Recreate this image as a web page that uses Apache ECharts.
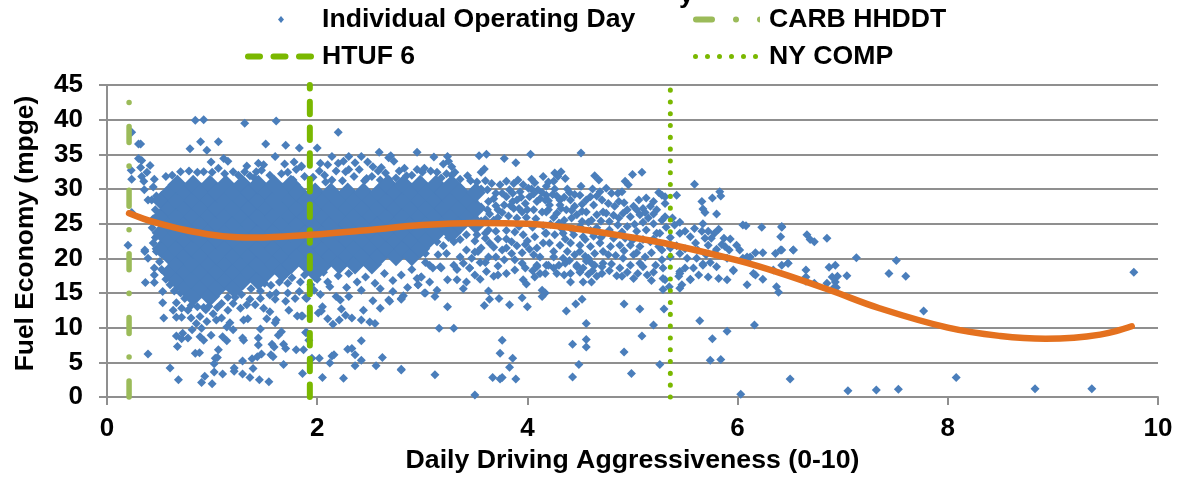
<!DOCTYPE html>
<html>
<head>
<meta charset="utf-8">
<style>
  html, body { margin: 0; padding: 0; background: #fff; }
  #chart { width: 1178px; height: 477px; }
</style>
<script src="https://cdn.jsdelivr.net/npm/echarts@6/dist/echarts.min.js"></script>
</head>
<body>
<div id="chart"></div>
<script>
const xTicks = [0, 10]
const yTicks = [0, 45]

// the solid mass of overlapping days, read as [x, [y...]] columns
const denseColumns = [
  [0.52, [21.4, 23.7, 26, 28.3]],
  [0.60, [18, 20.3, 22.6, 24.9, 27.2, 29.5]],
  [0.67, [16.8, 19.1, 21.4, 23.7, 26, 28.3, 30.6]],
  [0.75, [15.7, 18, 20.3, 22.6, 24.9, 27.2, 29.5]],
  [0.82, [14.5, 16.8, 19.1, 21.4, 23.7, 26, 28.3, 30.6]],
  [0.90, [15.7, 18, 20.3, 22.6, 24.9, 27.2, 29.5]],
  [0.98, [14.5, 16.8, 19.1, 21.4, 23.7, 26, 28.3, 30.6]],
  [1.05, [15.7, 18, 20.3, 22.6, 24.9, 27.2, 29.5]],
  [1.13, [16.8, 19.1, 21.4, 23.7, 26, 28.3, 30.6]],
  [1.21, [15.7, 18, 20.3, 22.6, 24.9, 27.2, 29.5]],
  [1.29, [16.8, 19.1, 21.4, 23.7, 26, 28.3, 30.6]],
  [1.36, [18, 20.3, 22.6, 24.9, 27.2, 29.5]],
  [1.44, [16.8, 19.1, 21.4, 23.7, 26, 28.3, 30.6]],
  [1.52, [18, 20.3, 22.6, 24.9, 27.2, 29.5]],
  [1.59, [19.1, 21.4, 23.7, 26, 28.3, 30.6]],
  [1.67, [18, 20.3, 22.6, 24.9, 27.2, 29.5]],
  [1.75, [19.1, 21.4, 23.7, 26, 28.3, 30.6]],
  [1.82, [20.3, 22.6, 24.9, 27.2, 29.5]],
  [1.90, [19.1, 21.4, 23.7, 26, 28.3]],
  [1.98, [18, 20.3, 22.6, 24.9, 27.2, 29.5]],
  [2.06, [19.1, 21.4, 23.7, 26, 28.3]],
  [2.13, [20.3, 22.6, 24.9, 27.2, 29.5]],
  [2.21, [19.1, 21.4, 23.7, 26, 28.3]],
  [2.29, [20.3, 22.6, 24.9, 27.2, 29.5]],
  [2.36, [19.1, 21.4, 23.7, 26, 28.3]],
  [2.44, [20.3, 22.6, 24.9, 27.2, 29.5]],
  [2.52, [19.1, 21.4, 23.7, 26, 28.3]],
  [2.59, [20.3, 22.6, 24.9, 27.2, 29.5]],
  [2.67, [21.4, 23.7, 26, 28.3, 30.6]],
  [2.75, [20.3, 22.6, 24.9, 27.2, 29.5]],
  [2.82, [21.4, 23.7, 26, 28.3, 30.6]],
  [2.90, [20.3, 22.6, 24.9, 27.2, 29.5]],
  [2.98, [21.4, 23.7, 26, 28.3, 30.6]],
  [3.05, [22.6, 24.9, 27.2, 29.5]],
  [3.13, [23.7, 26, 28.3, 30.6]],
  [3.21, [24.9, 27.2, 29.5]],
  [3.28, [23.7, 26, 28.3, 30.6]],
  [3.36, [24.9, 27.2, 29.5]],
  [3.44, [26, 28.3]],
  [3.51, [24.9, 27.2, 29.5]]
]

const topDays = [
  [.235,38.2],[.30,36.5],[.32,36.5],[.79,35.8],[.84,39.9],[.92,40],[.89,36.8],[.95,35.6],[1.06,36.8],[1.31,39.5],
  [1.61,39.8],[1.51,36.5],[1.70,36.3],[1.83,35.9],[2.0,35.9],[2.2,38.2],[1.60,34.7],[1.69,33.6],[1.78,33.9],[1.80,32.8],
  [1.85,33.2],[1.77,31.3],[1.88,31.8],[.99,33.9],[1.11,34.4],[1.15,34],[1.06,33],[.92,32.5],[1.2,32.5],[1.31,32.5],
  [1.33,33.3],[1.44,33.7],[1.49,33.5],[1.42,32.5],[1.47,32.7],[1.40,31.6],[.23,32.7],[.235,31.4],[.30,34.4],[.33,34.1],
  [.32,33.1],[.41,33.4],[.38,32.4],[.33,31.8],[.35,31.1],[.45,31.4],[.355,29.9],[.44,30.3],[.39,28.4],[.425,28.4],
  [.56,31.8],[.235,26.6],[2.59,35.3],[2.7,34.8],[2.95,35.3],[2.14,34.7],[2.3,34.7],[2.42,34.7],[2.2,33.7],[2.1,33.5],
  [2.36,33.8],[2.25,34],[2.48,33.9],[1.85,33.3],[2.03,33.7],[2.53,33.2],[2.61,33.1],[2.73,34],[2.68,34.5],[2.83,33],
  [2.65,32.3],[2.14,31.3],[2.07,32],[2.35,31.8],[2.47,31.5],[2.75,31.6],[2.9,32],[3.0,32.4],[2.6,31.3],[2.27,32.5],
  [3.11,34.6],[3.54,34.8],[3.61,35],[3.78,34.4],[4.03,35],[3.89,33.8],[3.24,34.7],[3.25,34],[3.2,33.6],[3.28,33.2],
  [3.14,32.4],[3.23,32.2],[3.31,32.4],[3.56,32.4],[3.59,32.9],[3.43,31.9],[3.8,31.1],[3.91,31.3],[3.87,30.8],[4.04,31.4],
  [4.07,30.9],[4.15,31.8],[3.74,30.6],[3.83,29.9],[3.93,29.6],[4.01,30.1],[4.1,29.9],[4.18,29.1],[4.02,28.9],[3.8,28.9],
  [3.9,28.4],[3.98,27.9],[4.09,28.2],[3.78,27.7],[3.87,27.2],[3.95,26.7],[4.06,27],[4.14,26.7],[3.66,30.8],[3.6,31.2],
  [3.7,29.4],[3.63,28.2],[3.7,27.6],[3.64,26.4],[3.72,25.9],[3.82,26.1],[3.9,25.8],[3.99,25.9],[4.08,25.7],[3.6,25.6],
  // rim of the mass
  [.62,32],[.7,32.5],[.78,32.6],[.86,32.4],[1,32.4],[1.12,32.2],[1.25,32],[1.36,31.9],[1.55,32],[1.66,32.2],[1.72,32.4],
  [1.96,31.7],[2.02,32.6],[2.08,31],[2.18,32.6],[2.24,31.2],[2.3,32.8],[2.4,32.8],[2.45,31.2],[2.52,31.8],[2.58,32.6],
  [2.68,31.4],[2.78,32.6],[2.85,31.9],[2.95,32.8],[3.02,33],[3.08,32.6],[3.18,31.6],[3.28,32],[3.36,31.4],[3.46,31.2],
  [3.52,31],[3.5,29.9],[3.56,30],[3.62,29.9],[3.68,28.6],[3.76,29.4],[3.86,28.2],[3.72,27],[3.62,27],[3.56,27.4],
  [3.56,25.4],[3.68,25.5],[3.76,26.6],[3.84,27.6],[3.92,27.2],[4,27],[4.12,28.6],[4.2,28.3],[4.04,30],[4.24,29.2],
  [3.96,30.6],[3.86,29.4],[3.94,28.8],[4.06,29.3],[4.14,29.5],[4.2,27],[4.25,25.9],[4.35,25.5],[4.42,25.8],[4.3,25.1],
  [4.58,25.2],[4.7,25.4],[4.78,25.3],[4.86,24.8]
]

const lowDays = [
  [.2,21.9],[.36,21],[.365,16.5],[.45,16.5],[.39,20],[.36,21.2],[.45,18.6],[.45,17.6],[.53,15.2],[.53,13.6],
  [.66,13.6],[.63,12.5],[.71,12.8],[.54,11.4],[.66,11.5],[.71,11.5],[.77,12.5],[.39,6.2],[.6,4.2],[.68,2.5],
  [.66,8.8],[.72,9.2],[.71,8.4],[.77,8.5],[.67,7.3],[.84,6.3],[.88,6.4],[.81,9.7],[.85,10.6],[.9,9.9],
  [.885,8.7],[.92,8.2],[.99,8.9],[.95,10.9],[1.04,11.1],[1.09,11.4],[1.17,10.7],[1.14,10.1],[1.2,9.7],[1.1,8.7],
  [1.14,8.1],[1.06,6.8],[1.03,5.6],[1.05,5.7],[1.02,4.8],[1.02,3.6],[1.1,3.3],[.93,3],[.9,2.1],[1.0,1.9],
  [1.21,3.7],[1.21,4.2],[1.29,3.3],[1.36,2.8],[1.39,4.1],[1.29,5.2],[1.38,5.5],[1.43,5.8],[1.47,6.2],[1.45,2.5],
  [1.54,2.2],[1.56,6.1],[1.58,5.8],[1.68,4.7],[1.29,8.5],[1.3,8.2],[1.44,8.5],[1.44,7.5],[1.46,9.8],[1.3,11.1],
  [1.34,11.3],[1.52,11.3],[1.61,11.1],[1.6,10.7],[1.66,9.4],[1.63,8.9],[1.57,7.6],[1.59,7.2],[1.68,7.6],[1.7,7],
  [1.8,6.8],[1.87,6.8],[1.86,3.4],[1.9,9.3],[1.73,12.5],[1.81,11.7],[1.86,11.7],[1.55,12.3],[1.49,12.8],[1.41,13.3],
  [1.6,14.1],[1.55,14.7],[1.61,15],[1.7,13.8],[1.79,14.2],[1.9,14.2],[1.2,13.5],[1.27,12.8],[1.22,14.4],[1.33,13.3],
  [1.09,13.5],[1.01,12],[.885,11.6],[.8,11.4],[.94,12.6],[.97,13.1],[1.15,12.5],[1.05,12.9],
  [1.89,14.3],[2.03,14.8],[2.05,13],[2.01,12.1],[2.04,12.4],[2.1,11.3],[2.15,10.5],[2.21,11.1],[2.23,12.7],[2.27,11.8],
  [2.33,11.4],[2.42,11.1],[2.5,10.8],[2.55,10.6],[2.44,12.5],[2.6,12.8],[2.53,13.9],[2.68,14],[2.69,13.8],[2.8,14.1],
  [2.82,14.6],[3.03,15],[2.18,14.5],[2.22,14],[2.3,14.5],[1.85,11.7],[1.89,9.3],[1.92,8.2],[1.95,5.6],[2.02,5.6],
  [2.12,4.9],[2.14,5.9],[2.16,6.1],[2.05,2.8],[2.25,2.7],[2.29,6.9],[2.33,7],[2.36,6.1],[2.42,8.1],[2.42,5.3],
  [2.36,4.5],[2.56,4.5],[2.62,5.7],[2.8,3.9],[2.8,4],[3.12,3.2],[3.16,9.9],[3.3,9.9],[3.5,.3],[3.67,2.8],
  [3.74,2.6],[3.76,2.8],[3.89,2.6],[3.83,4.3],[3.86,5.6],[3.74,6.3],[3.76,8.2],[4.43,2.9],[4.49,4.7],[4.43,7.6],
  [4.56,7.2],[4.56,8.3],[4.56,10.6],[4.37,12.4],[4.46,13.4],[4.52,14.1],[4.92,6.5],[5.09,8.8],[4.99,3.4],[5.26,4.7],
  [5.2,10.4],[5.3,12.7],[5.07,12.7],[4.92,13.4],[5.64,11],[5.76,8.4],[5.9,9.5],[6.16,10.4],[5.74,5.3],[5.84,5.4],
  [6.03,.4],[6.5,2.6],[2.8,14.2],[3.24,13],[3.12,14.5],[3.02,15],[3.14,15.4],[3.59,13.2],[3.64,14.1],[3.73,14.2],
  [3.83,13.3],[3.95,14.3],[4,13],[3.63,15.3],[4.14,15.4],[4.17,15],[4.14,14.5],[7.05,.9],[7.32,1],[7.53,1.1],
  [8.08,2.8],[8.83,1.2],[9.37,1.2],[7.77,12.4],
  // lower rim of the mass
  [.47,29],[.46,27],[.44,25.7],[.43,24.4],[.46,23],[.44,22.2],[.47,21],[.5,19.5],[.52,18.4],[.56,17],[.6,16.2],
  [.64,15.3],[.7,15],[.74,14.2],[.8,13.2],[.86,13],[.92,12.9],[1.15,14.4],[1.28,14.8],[1.37,15.6],[1.46,15.3],
  [1.5,16.4],[1.56,16.1],[1.64,16.6],[1.72,16.4],[1.76,17.2],[1.84,16.6],[1.88,17.6],[1.94,16.2],[1.97,15.4],[1.72,15],
  [1.83,15.2],[1.46,14.2],[1.36,14.1]
]

const midDays = [
  // below the mass, x 2 to 3.5
  [2.0,17],[2.1,16.6],[2.06,18],[2.2,17.5],[2.3,17.8],[2.38,16.6],[2.46,17.3],[2.55,16.4],[2.64,17.8],[2.72,16.8],
  [2.8,17.6],[2.9,18.4],[2.95,17.1],[2.12,15.9],[2.28,15.8],[2.42,15.4],[2.6,15.6],[2.72,15.2],[2.86,15.8],[2.96,16.2],
  [2.99,17.3],[3.03,19.4],[3.07,22.9],[3.14,22.4],[3.01,22.2],[3.03,20.7],[3.15,20.5],[3.23,20.7],[3.36,20.2],[3.45,18.6],
  [3.3,22.4],[3.36,22.7],[3.39,19.3],[3.3,19],[3.17,18.8],[3.07,19],[3.24,16.9],[3.33,16.9],[3.42,16.6],[3.39,15.6],
  [3.07,16.6],[2.99,17.3],[2.96,16.2],[3.1,18.6],[3.18,18.6],[3.33,18.4],[3.45,18.6],[3.2,21.8],[3.42,21.2],[3.5,22.5],
  [3.25,23],[3.42,23.4],[3.1,24],
  // x 3.5 to 4.2 under the trend
  [3.52,23.4],[3.63,24.1],[3.72,22.8],[3.6,22.9],[3.8,22.8],[3.96,23.4],[3.8,24],[4.07,23.1],[4.17,23.6],[4.09,21.5],
  [4.15,22.2],[3.76,21.2],[3.53,21],[3.5,20.9],[3.56,21.5],[3.63,20.2],[3.88,19.8],[3.95,19.3],[4.06,20.5],[4.09,18.8],
  [4.18,19],[3.72,18.9],[3.61,18.1],[3.72,17.6],[3.88,18.3],[3.98,18.6],[3.96,16.9],[3.99,16.3],[4.07,17.3],[4.12,17.8],
  [4.17,17.8],[4.09,19],[4.2,19],[3.9,21.8],[3.98,22],[3.68,21.6],[3.85,20.7],[4.12,20.2],[3.55,19.4],[3.47,20],
  [3.6,23.6],[3.7,23.9],[3.88,23.8],[3.85,22.4],[4,22.5],[3.64,22.2],[3.8,21.5],[3.95,20.8],[4.02,21.3],[3.7,20.2],
  [3.78,19.8],[3.6,19.4],[3.68,17.4],[3.8,17.8],[3.5,17.6],[3.55,17],[4.05,18.2],
  // x 4.2 to 5.3
  [4.28,17.8],[4.41,17.8],[4.41,16.6],[4.53,16.6],[4.61,16.6],[4.71,17.8],[4.66,17.4],[4.47,19],[4.53,18.6],[4.61,19.3],
  [4.72,19.3],[4.88,18.6],[5.01,17.1],[5.14,17.6],[5.07,19.3],[5.29,18.6],[5.31,16.9],[5.29,15.5],[5.35,15.9],[4.26,32.3],
  [4.32,32.5],[4.25,31.1],[4.36,31.5],[4.29,31.8],[4.64,31.9],[4.68,31.3],[5,32.1],[5.09,32.4],[4.93,31.1],[4.96,30.6],
  [4.51,30.4],[4.26,30],[5.25,29.5],[5.31,28.9],[4.9,29.6],[4.51,35.2],[4.17,28.4],[4.21,27.7],[4.31,28.4],[4.41,28.4],
  [4.5,29.1],[4.45,27.5],[4.56,28.4],[4.63,27.7],[4.69,29.6],[4.75,30.1],[4.8,29.4],[4.71,28.4],[4.77,27.9],[4.87,28.2],
  [4.83,27.5],[4.72,26.7],[4.66,26.3],[4.56,26.7],[4.47,26.3],[4.37,27],[4.28,26.5],[4.18,26.7],[4.31,27.7],[4.91,26.5],
  [5.06,28.4],[5.13,28.7],[5.01,27.5],[5.17,27.5],[5.23,27],[5.07,26.3],[4.98,26],[4.87,25.8],[4.61,25.5],[4.52,25.3],
  [5.28,25.5],[5.15,25.8],[4.18,23.6],[4.26,23.4],[4.34,23.6],[4.44,23.4],[4.53,23.1],[4.63,23.2],[4.72,23.4],[4.82,22.9],
  [4.93,22.9],[5.04,23.9],[5.13,24.1],[5.23,23.6],[4.21,22.2],[4.31,21.9],[4.41,22.2],[4.5,21.9],[4.6,21.7],[4.69,22.2],
  [4.79,21.7],[4.88,21.9],[4.98,21.9],[5.07,21.7],[5.17,22.4],[5.25,21.7],[4.5,21],[4.64,20.7],[4.72,21],[4.77,20.5],
  [4.34,20],[4.47,18.8],[4.36,19.3],[4.64,19],[4.71,18.8],[4.98,19],[5.01,20.5],[5.12,20.2],[5.1,18.8],[4.91,20],
  [5.28,19.8],[5.36,20.2],[5.28,21.2],[5.36,21.5],[5.26,23.6],[5.29,17.1],
  [4.35,28.8],[4.4,29.5],[4.28,29],[4.52,27.8],[4.6,28.9],[4.66,29],[4.62,30],[4.86,29.4],[4.92,28],[4.95,27],
  [5.04,27],[5.1,27.2],[5.2,26.4],[5.2,28.2],[4.25,21],[4.38,21],[4.45,20.5],[4.55,20.3],[4.58,20],[4.84,20.4],
  [4.92,21.1],[5.04,20.8],[5.18,20.8],[5.22,19],[4.8,19.2],[4.56,19.6],[4.25,20.2],[4.3,19],[4.4,19.7],[4.5,18],
  [4.58,17.7],[4.85,17.5],[4.95,18],[5.2,18],[4.33,24.2],[4.5,24.6],[4.6,24],[4.9,23.8],[5.2,22.8],[4.36,22.8],
  [4.55,22.7],[4.7,23],[5,22.6],[5.1,22.7],[4.25,18.6],[4.35,17.6],[4.62,18.2],[4.78,18.2],[4.9,17.4],[5.05,17.8],
  [5.18,16.8],[4.42,24.2],[4.66,24.4],[4.78,24.1],[4.95,24.6],[5.02,24.9],[5.1,25.2],[5.2,25],[4.22,24.9],[4.15,24.7],
  [4.05,24.5],[3.92,24.6],[4.32,27.2],[4.45,29.2],[4.42,26.9],[4.52,26.8],[4.75,26.5],[4.82,26.2],[5.12,26.6],[4.38,30],
  [4.18,30.4],[4.2,31],
  // x 5.3 to 6.5
  [5.45,15.7],[5.47,16.2],[5.55,17],[5.63,17.6],[5.72,17.3],[5.82,17.1],[5.9,16.9],[6.09,16.2],[6.24,17],[6.37,15.9],
  [6.39,15.1],[5.45,18.1],[5.44,17.4],[5.5,18.6],[5.58,18.6],[5.67,19.2],[5.61,20],[5.96,18.2],[6.17,17.6],[6.42,19],
  [6.48,19.3],[6.36,20.7],[6.24,20.8],[6.17,20.8],[6.09,20.2],[6.53,21.2],[5.59,30.7],[5.83,29.6],[5.84,29],[5.76,28.7],
  [5.42,29.1],[5.28,29.1],[5.66,28.2],[5.67,27.1],[5.69,26.6],[5.8,26.4],[5.31,27.9],[5.31,26],[5.4,24.8],[5.67,25],
  [6.05,24.8],[6.08,24.7],[6.23,24.5],[6.42,24.5],[6.41,23.1],[5.82,24.2],[5.78,23.6],[5.59,24.3],[5.5,23.9],[5.45,23.6],
  [5.55,23.1],[5.66,23.9],[5.72,23.9],[5.69,22.9],[5.75,22.9],[5.87,22.9],[5.93,22.8],[5.72,21.9],[5.99,21.9],[6.02,21.2],
  [5.88,21.7],[5.8,21.3],[6.42,21.2],[5.45,20.7],[5.52,20],[5.67,19],[5.8,18.8],[5.96,18.3],[5.55,16.9],[5.45,17.8],
  [6.15,17.8],[6.34,18.3],[6.12,20.2],[6.05,20],[5.36,23],[5.42,21.8],[5.5,21.4],[5.6,22.2],[5.62,21.2],[5.85,22],
  [5.92,21.2],[5.7,20.5],[5.78,20.8],[5.9,20],[5.74,19.4],[5.32,24.5],[5.38,25.8],[5.45,25.2],
  // x 6.4 to 9.8
  [6.42,24.6],[6.66,23.4],[6.69,22.7],[6.73,22.4],[6.85,22.9],[6.41,21.2],[6.53,21.2],[6.48,19.3],[6.65,18.3],[6.65,17.3],
  [6.65,16.7],[6.73,16.4],[6.85,16.4],[6.87,18.7],[6.93,19],[7.13,20.1],[7.04,17.5],[6.95,17.4],[6.9,17.3],[6.93,16.6],
  [6.94,15.8],[6.91,15.7],[7.51,19.7],[7.44,17.8],[7.6,17.4],[9.77,18]
]

const carbX = [0.21, 0.21]
const htufX = [1.93, 1.93]
const nyX = [5.36, 5.36]
const cycleY = [0, 45]

const trendX = [0.21, 0.35, 0.5, 0.8, 1.1, 1.4, 1.93, 2.5, 3, 3.5, 4, 4.5, 5, 5.36, 6, 6.4, 6.88, 7.35, 8, 8.5, 8.93, 9.2, 9.45, 9.6, 9.75]
const trendY = [26.5, 25.7, 25, 23.9, 23.2, 23, 23.4, 24.1, 24.8, 25.1, 25, 24.2, 23, 22, 19.7, 17.9, 15.4, 12.8, 10, 8.8, 8.4, 8.55, 9, 9.5, 10.2]

const denseDays = denseColumns.flatMap(([x, ys]) => ys.map((y) => [x, y]))
const days = [...topDays, ...lowDays, ...midDays]

const fontFamily = '"Liberation Sans", Arial, sans-serif'
const gridColor = '#8f8f8f'
const dayColor = '#4a7ebb'
const carbColor = '#9bbb59'
const htufColor = '#7ab800'
const trendColor = '#e4711f'

const carbDash = [16, 24, 0.1, 23.5]
const htufDash = [12.5, 13.2]
const nyDash = [0.1, 11.7]

// legend swatches, a line icon doubles its dashes so they are paths instead
const pill = (x, len) => `M${x + 3} 0h${len - 6}a3 3 0 0 1 0 6h-${len - 6}a3 3 0 0 1 0-6z`
const dot = (x, r) => `M${x - r} ${r}a${r} ${r} 0 1 0 ${2 * r} 0a${r} ${r} 0 1 0-${2 * r} 0z`
const htufIcon = 'path://' + pill(0, 18) + pill(25.5, 18) + pill(51, 18)
const carbIcon = 'path://' + pill(0, 22) + dot(43, 3) + 'M67 0a3 3 0 0 0 0 6z'
const nyIcon = 'path://' + [2.5, 14.5, 26.5, 38.5, 50.5, 62.5].map((x) => dot(x, 2.5)).join('')

const vertical = (name, xs, color, width, dash) => ({
  name,
  type: 'line',
  data: xs.map((x, i) => [x, cycleY[i]]),
  symbol: 'none',
  clip: false,
  lineStyle: { color, width, type: dash, cap: 'round' },
  itemStyle: { color },
})

const legendText = (pad) => ({
  color: '#000',
  fontFamily,
  fontWeight: 'bold',
  fontSize: 26.6,
  padding: [0, 0, 0, pad],
})

const option = {
  animation: false,
  backgroundColor: '#fff',
  title: {
    text: 'y',
    left: 674,
    top: -23,
    textStyle: { color: '#000', fontFamily, fontWeight: 'bold', fontSize: 26.5 },
  },
  legend: [
    { selectedMode: false, padding: 0, left: 278, top: 6, itemWidth: 6, itemHeight: 7, data: [{ name: 'Individual Operating Day', icon: 'diamond' }], textStyle: legendText(33) },
    { selectedMode: false, padding: 0, left: 245, top: 43, itemWidth: 69, itemHeight: 6, data: [{ name: 'HTUF 6', icon: htufIcon }], textStyle: legendText(3) },
    { selectedMode: false, padding: 0, left: 693, top: 6, itemWidth: 67, itemHeight: 6, data: [{ name: 'CARB HHDDT', icon: carbIcon }], textStyle: legendText(4) },
    { selectedMode: false, padding: 0, left: 693, top: 43, itemWidth: 65, itemHeight: 5, data: [{ name: 'NY COMP', icon: nyIcon }], textStyle: legendText(6) },
  ],
  grid: { left: 107, right: 20, top: 85, bottom: 80, outerBoundsMode: 'none' },
  xAxis: {
    type: 'value',
    min: xTicks[0],
    max: xTicks[1],
    interval: 2,
    name: 'Daily Driving Aggressiveness (0-10)',
    nameLocation: 'middle',
    nameGap: 46,
    nameTextStyle: { color: '#000', fontFamily, fontWeight: 'bold', fontSize: 26.7 },
    axisLine: { lineStyle: { color: gridColor, width: 2 } },
    axisTick: { show: true, length: 8, lineStyle: { color: gridColor, width: 2 } },
    axisLabel: { color: '#000', fontFamily, fontWeight: 'bold', fontSize: 26, margin: 19 },
    splitLine: { show: false },
  },
  yAxis: {
    type: 'value',
    min: yTicks[0],
    max: yTicks[1],
    interval: 5,
    name: 'Fuel Economy (mpge)',
    nameLocation: 'middle',
    nameGap: 68,
    nameTextStyle: { color: '#000', fontFamily, fontWeight: 'bold', fontSize: 26.4, padding: [0, 0, 0, 15] },
    axisLine: { show: true, lineStyle: { color: gridColor, width: 2 } },
    axisTick: { show: true, length: 8, lineStyle: { color: gridColor, width: 2 } },
    axisLabel: { color: '#000', fontFamily, fontWeight: 'bold', fontSize: 26, margin: 24 },
    splitLine: { show: true, lineStyle: { color: gridColor, width: 2 } },
  },
  series: [
    {
      name: 'Individual Operating Day',
      type: 'scatter',
      data: days,
      symbol: 'diamond',
      symbolSize: 9,
      itemStyle: { color: dayColor, opacity: 1 },
      z: 2,
    },
    {
      name: 'Individual Operating Day',
      type: 'scatter',
      data: denseDays,
      symbol: 'diamond',
      symbolSize: 20,
      itemStyle: { color: dayColor, opacity: 1 },
      z: 2,
    },
    { ...vertical('CARB HHDDT', carbX, carbColor, 5.5, carbDash), z: 3 },
    { ...vertical('HTUF 6', htufX, htufColor, 6, htufDash), z: 3 },
    { ...vertical('NY COMP', nyX, htufColor, 5, nyDash), z: 3 },
    {
      name: 'Trend',
      type: 'line',
      data: trendX.map((x, i) => [x, trendY[i]]),
      symbol: 'none',
      smooth: 0.4,
      clip: false,
      lineStyle: { color: trendColor, width: 6.5, cap: 'round' },
      z: 4,
    },
  ],
}

const chart = echarts.init(document.getElementById('chart'), null, { renderer: 'canvas' })
chart.setOption(option)
</script>
</body>
</html>
